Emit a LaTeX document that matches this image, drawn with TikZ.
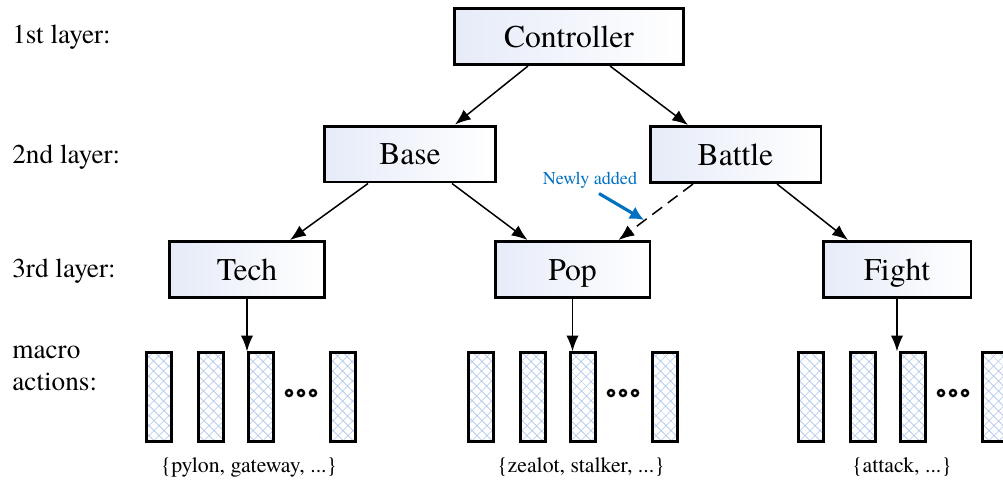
\documentclass[tikz,border=0pt]{standalone}
\usepackage{fontspec}
\setmainfont{TeX Gyre Termes}
\usetikzlibrary{arrows.meta,patterns.meta,positioning}
\definecolor{boxblue}{RGB}{230,235,248}
\definecolor{hatchblue}{RGB}{175,198,232}
\definecolor{noteblue}{RGB}{0,112,192}
\tikzset{
  layerbox/.style={draw, line width=1.7pt, left color=boxblue, right color=white,
    minimum height=1.12cm, inner sep=0pt, text height=12pt, text depth=0pt,
    font=\fontsize{18}{20}\selectfont},
  actbox/.style={draw, line width=1.3pt, minimum width=0.5cm, minimum height=1.78cm,
    inner sep=0pt, pattern={Hatch[angle=45,distance=4pt,line width=0.4pt]},
    pattern color=hatchblue},
  layerlabel/.style={anchor=base west, inner sep=0pt, align=left,
    font=\fontsize{15.5}{18}\selectfont},
  setlabel/.style={inner sep=0pt, font=\fontsize{12.4}{14}\selectfont},
  link/.style={-{Latex[length=9pt,width=7pt]}, line width=0.85pt},
}
\begin{document}
\begin{tikzpicture}[x=0.02cm, y=-0.02cm]
    \useasboundingbox (0,0) rectangle (1003,485);

    % layer names
    \node[layerlabel] (l1) at (12,43) {1st layer:};
    \node[layerlabel] (l2) at (12,163) {2nd layer:};
    \node[layerlabel] (l3) at (12,277) {3rd layer:};
    \node[layerlabel] (l4) at (12,390) {macro\\actions:};

    % controllers
    \node[layerbox, minimum width=4.58cm] (ctrl) at (569,36.5) {Controller};
    \node[layerbox, minimum width=3.42cm] (base) at (410,154) {Base};
    \node[layerbox, minimum width=3.42cm] (battle) at (735.5,154.5) {Battle};
    \node[layerbox, minimum width=3.1cm] (tech) at (247,269.5) {Tech};
    \node[layerbox, minimum width=3.1cm] (pop) at (572.5,269.5) {Pop};
    \node[layerbox, minimum width=2.96cm] (fight) at (897,269.5) {Fight};

    % macro actions of each 3rd layer controller
    \foreach \grp/\gx in {tech/146, pop/468, fight/798} {
      \foreach \i/\dx in {1/0, 2/52, 3/102, 4/184}
        \node[actbox] (\grp-a\i) at (\gx+13+\dx, 397) {};
      \foreach \dx in {143,155,167}
        \draw[line width=1.4pt] (\gx+\dx, 393) circle (0.06cm);
      \draw[link] (\grp.south) -- (\grp.south |- \grp-a3.north);
    }
    \node[setlabel] (techset) at (249,467) {\{pylon, gateway, ...\}};
    \node[setlabel] (popset) at (581,467) {\{zealot, stalker, ...\}};
    \node[setlabel] (fightset) at (902,467) {\{attack, ...\}};

    % links between layers
    \draw[link] ([xshift=-0.82cm]ctrl.south) -- ([xshift=0.9cm]base.north);
    \draw[link] ([xshift=0.82cm]ctrl.south) -- ([xshift=-0.95cm]battle.north);
    \draw[link] ([xshift=-0.84cm]base.south) -- ([xshift=0.86cm]tech.north);
    \draw[link] ([xshift=0.84cm]base.south) -- ([xshift=-0.9cm]pop.north);
    \draw[link] ([xshift=0.83cm]battle.south) -- ([xshift=-0.98cm]fight.north);
    \draw[link, dash pattern=on 7pt off 4pt] ([xshift=-0.85cm]battle.south) -- ([xshift=0.92cm]pop.north);

    % new link note
    \node[text=noteblue, inner sep=0pt, font=\fontsize{10.3}{12}\selectfont] (note) at (590,180) {Newly added};
    \coordinate (notetip) at (644,220);
    \draw[noteblue, line width=1.8pt, -{Latex[length=8pt,width=8pt]}] ([xshift=0.18cm,yshift=-0.1cm]note.south) -- (notetip);
\end{tikzpicture}
\end{document}
